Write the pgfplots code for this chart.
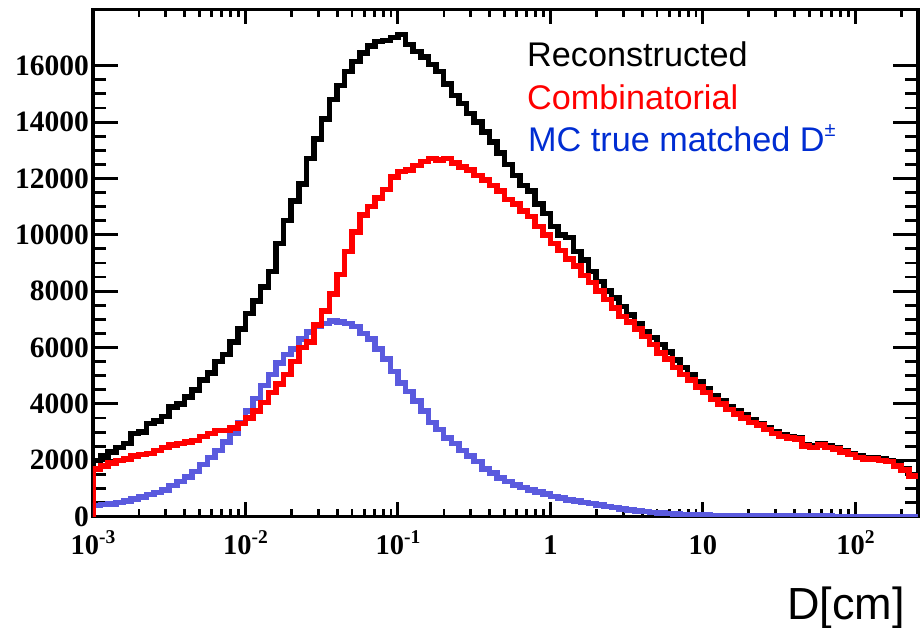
\documentclass[border=0pt]{standalone}
\usepackage{fontspec}
\setmainfont{Liberation Serif}
\newfontfamily\arial{Liberation Sans}
\usepackage{pgfplots}
\usepackage{pgfplotstable}
\pgfplotsset{compat=1.18}
\definecolor{mcblue}{RGB}{90,90,222}
\definecolor{txtblue}{RGB}{0,45,210}
\definecolor{rootred}{RGB}{255,0,0}
\newcommand\sups[1]{\raisebox{0.42em}{\fontsize{19.5}{19.5}\selectfont\bfseries #1}}

\pgfplotstableread{
x y
-3.00 0
-3.00 2000
-2.95 2150
-2.90 2300
-2.85 2450
-2.80 2600
-2.75 2950
-2.70 3000
-2.65 3300
-2.60 3400
-2.55 3550
-2.50 3900
-2.45 4000
-2.40 4250
-2.35 4500
-2.30 4850
-2.25 5100
-2.20 5500
-2.15 5750
-2.10 6200
-2.05 6650
-2.00 7200
-1.95 7650
-1.90 8150
-1.85 8700
-1.80 9700
-1.75 10500
-1.70 11200
-1.65 11800
-1.60 12700
-1.55 13400
-1.50 14100
-1.45 14800
-1.40 15300
-1.35 15800
-1.30 16150
-1.25 16450
-1.20 16700
-1.15 16850
-1.10 16900
-1.05 17000
-1.00 17100
-0.95 16750
-0.90 16500
-0.85 16300
-0.80 16050
-0.75 15800
-0.70 15350
-0.65 14950
-0.60 14650
-0.55 14300
-0.50 14000
-0.45 13650
-0.40 13300
-0.35 12900
-0.30 12500
-0.25 12100
-0.20 11750
-0.15 11550
-0.10 11100
-0.05 10750
0.00 10300
0.05 10000
0.10 9900
0.15 9400
0.20 9100
0.25 8700
0.30 8350
0.35 8000
0.40 7750
0.45 7450
0.50 7150
0.55 6850
0.60 6550
0.65 6350
0.70 6100
0.75 5850
0.80 5550
0.85 5300
0.90 5050
0.95 4800
1.00 4550
1.05 4300
1.10 4100
1.15 3900
1.20 3750
1.25 3600
1.30 3450
1.35 3300
1.40 3150
1.45 3000
1.50 2900
1.55 2850
1.60 2800
1.65 2550
1.70 2500
1.75 2600
1.80 2500
1.85 2450
1.90 2350
1.95 2250
2.00 2150
2.05 2100
2.10 2100
2.15 2050
2.20 2000
2.25 1850
2.30 1700
2.35 1500
2.41 1500
}\reco

\pgfplotstableread{
x y
-3.00 0
-3.00 1700
-2.95 1800
-2.90 1900
-2.85 2000
-2.80 2050
-2.75 2150
-2.70 2200
-2.65 2250
-2.60 2350
-2.55 2450
-2.50 2550
-2.45 2600
-2.40 2650
-2.35 2700
-2.30 2850
-2.25 2950
-2.20 3050
-2.15 3050
-2.10 3150
-2.05 3300
-2.00 3500
-1.95 3750
-1.90 4050
-1.85 4400
-1.80 4700
-1.75 5050
-1.70 5500
-1.65 6000
-1.60 6200
-1.55 6800
-1.50 7300
-1.45 7900
-1.40 8600
-1.35 9400
-1.30 10100
-1.25 10700
-1.20 11000
-1.15 11300
-1.10 11600
-1.05 12050
-1.00 12250
-0.95 12300
-0.90 12450
-0.85 12600
-0.80 12700
-0.75 12650
-0.70 12700
-0.65 12550
-0.60 12400
-0.55 12300
-0.50 12100
-0.45 11950
-0.40 11750
-0.35 11550
-0.30 11250
-0.25 11100
-0.20 10850
-0.15 10650
-0.10 10300
-0.05 10000
0.00 9700
0.05 9450
0.10 9150
0.15 8900
0.20 8550
0.25 8300
0.30 8000
0.35 7700
0.40 7400
0.45 7100
0.50 6900
0.55 6650
0.60 6400
0.65 6100
0.70 5800
0.75 5600
0.80 5300
0.85 5050
0.90 4850
0.95 4600
1.00 4400
1.05 4150
1.10 4000
1.15 3800
1.20 3650
1.25 3500
1.30 3350
1.35 3250
1.40 3100
1.45 2950
1.50 2850
1.55 2800
1.60 2750
1.65 2500
1.70 2450
1.75 2550
1.80 2450
1.85 2400
1.90 2300
1.95 2200
2.00 2100
2.05 2050
2.10 2050
2.15 2000
2.20 1950
2.25 1800
2.30 1650
2.35 1450
2.41 1450
}\comb

\pgfplotstableread{
x y
-3.00 0
-3.00 400
-2.95 430
-2.90 450
-2.85 500
-2.80 560
-2.75 620
-2.70 700
-2.65 780
-2.60 850
-2.55 950
-2.50 1100
-2.45 1250
-2.40 1400
-2.35 1600
-2.30 1850
-2.25 2100
-2.20 2350
-2.15 2650
-2.10 2950
-2.05 3350
-2.00 3750
-1.95 4200
-1.90 4650
-1.85 5050
-1.80 5450
-1.75 5750
-1.70 5950
-1.65 6300
-1.60 6550
-1.55 6750
-1.50 6850
-1.45 6950
-1.40 6900
-1.35 6850
-1.30 6750
-1.25 6500
-1.20 6300
-1.15 5950
-1.10 5600
-1.05 5150
-1.00 4750
-0.95 4450
-0.90 4100
-0.85 3750
-0.80 3350
-0.75 3100
-0.70 2800
-0.65 2600
-0.60 2350
-0.55 2150
-0.50 1950
-0.45 1700
-0.40 1550
-0.35 1380
-0.30 1250
-0.25 1130
-0.20 1030
-0.15 950
-0.10 870
-0.05 800
0.00 720
0.05 660
0.10 600
0.15 560
0.20 510
0.25 460
0.30 410
0.35 360
0.40 320
0.45 280
0.50 240
0.55 210
0.60 180
0.65 150
0.70 130
0.75 110
0.80 95
0.85 80
0.90 70
0.95 60
1.00 55
1.05 50
1.10 45
1.15 40
1.20 40
1.25 35
1.30 35
1.35 30
1.40 30
1.45 30
1.50 25
1.55 25
1.60 25
1.65 20
1.70 20
1.75 20
1.80 20
1.85 15
1.90 15
1.95 15
2.00 15
2.05 12
2.10 12
2.15 10
2.20 10
2.25 10
2.30 10
2.35 10
2.41 10
}\mctrue

\begin{document}
\begin{tikzpicture}
\path[use as bounding box] (-93pt,-111.3pt) rectangle (827pt,516.7pt);
% axis A: x ticks and labels (behind everything)
\begin{axis}[
  at={(0pt,0pt)}, anchor=south west,
  width=825pt, height=507.4pt, scale only axis,
  xmin=-3, xmax=2.41, ymin=0, ymax=18000,
  axis line style={line width=3.5pt},
  tick align=inside,
  xtick={-3,-2,-1,0,1,2},
  xticklabels={10\sups{-3},10\sups{-2},10\sups{-1},1,10,10\sups{2}},
  minor xtick={-2.69897,-2.52288,-2.39794,-2.30103,-2.22185,-2.15490,-2.09691,-2.04576,
    -1.69897,-1.52288,-1.39794,-1.30103,-1.22185,-1.15490,-1.09691,-1.04576,
    -0.69897,-0.52288,-0.39794,-0.30103,-0.22185,-0.15490,-0.09691,-0.04576,
    0.30103,0.47712,0.60206,0.69897,0.77815,0.84510,0.90309,0.95424,
    1.30103,1.47712,1.60206,1.69897,1.77815,1.84510,1.90309,1.95424,2.30103},
  ytick=\empty,
  major tick length=15pt, minor tick length=7.5pt,
  major tick style={line width=3pt, black},
  minor tick style={line width=2.8pt, black},
  xticklabel style={font=\bfseries\fontsize{28.5}{28.5}\selectfont, anchor=base, inner sep=0pt, yshift=-38.3pt},
]
\end{axis}
% axis B: y ticks and histograms
\begin{axis}[
  at={(0pt,0pt)}, anchor=south west,
  width=825pt, height=507.4pt, scale only axis,
  xmin=-3, xmax=2.41, ymin=0, ymax=18000,
  axis line style={line width=3.5pt},
  tick align=inside,
  xtick=\empty,
  ytick={0,2000,4000,6000,8000,10000,12000,14000,16000},
  minor y tick num=3,
  scaled y ticks=false,
  major tick length=25pt, minor tick length=13pt,
  major tick style={line width=3pt, black},
  minor tick style={line width=2.8pt, black},
  /pgf/number format/assume math mode=true,
  /pgf/number format/1000 sep={},
  yticklabel style={font=\bfseries\fontsize{29.5}{29.5}\selectfont, anchor=east, inner sep=0pt, xshift=-4pt},
]
\addplot[const plot mark left, black, line width=5.5pt] table[x=x,y=y]{\reco};
\addplot[const plot mark left, mcblue, line width=5.5pt] table[x=x,y=y]{\mctrue};
\addplot[const plot mark left, rootred, line width=5.5pt] table[x=x,y=y]{\comb};
\end{axis}
\node[anchor=base west, inner sep=0pt, font=\arial\fontsize{34.2}{34.2}\selectfont, text=black] at (434pt,450pt) {Reconstructed};
\node[anchor=base west, inner sep=0pt, font=\arial\fontsize{34.2}{34.2}\selectfont, text=rootred] at (434pt,406.7pt) {Combinatorial};
\node[anchor=base west, inner sep=0pt, font=\arial\fontsize{34.2}{34.2}\selectfont, text=txtblue] at (435pt,365pt) {MC true matched D\raisebox{0.45em}{\fontsize{20}{20}\selectfont ±}};
\node[anchor=base east, inner sep=0pt, font=\arial\fontsize{45}{45}\selectfont] at (812pt,-103.3pt) {D[cm]};
\end{tikzpicture}
\end{document}
